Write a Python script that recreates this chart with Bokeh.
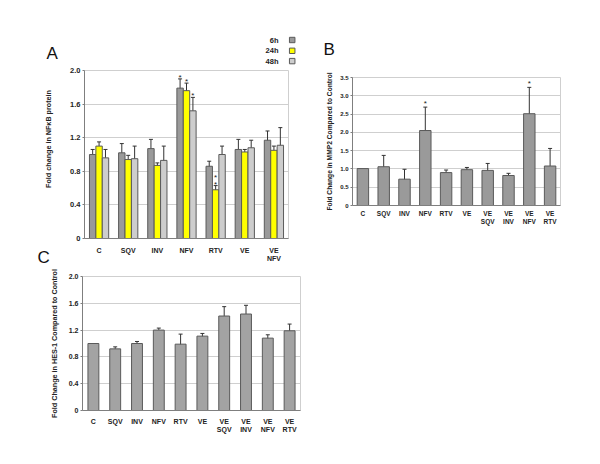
import numpy as np
from bokeh.plotting import figure
from bokeh.models import (ColumnDataSource, Whisker, TeeHead, FixedTicker, Range1d)
from bokeh.layouts import row, column
from bokeh.embed import file_html
from bokeh.resources import INLINE
from bokeh.core.properties import value

FONT = "Liberation Sans"

# ---------------- Panel A data (NF-kB protein) ----------------
a_cats = ["C", "SQV", "INV", "NFV", "RTV", "VE", "VE\nNFV"]
a_series = ["6h", "24h", "48h"]
a_6h = [1.00, 1.02, 1.07, 1.79, 0.86, 1.06, 1.17]
a_6h_err = [0.06, 0.11, 0.11, 0.11, 0.06, 0.12, 0.11]
a_24h = [1.10, 0.94, 0.87, 1.76, 0.58, 1.03, 1.05]
a_24h_err = [0.05, 0.05, 0.03, 0.09, 0.05, 0.03, 0.05]
a_48h = [0.96, 0.95, 0.93, 1.52, 1.00, 1.08, 1.11]
a_48h_err = [0.10, 0.15, 0.17, 0.16, 0.10, 0.09, 0.21]
a_sig_6h = ["", "", "", "*", "", "", ""]
a_sig_24h = ["", "", "", "*", "*\n*", "", ""]
a_sig_48h = ["", "", "", "*", "", "", ""]
a_yticks = [0, 0.4, 0.8, 1.2, 1.6, 2.0]
a_ylabels = ["0", "0.4", "0.8", "1.2", "1.6", "2.0"]
a_ytitle = "Fold change in NF\u03baB protein"

# ---------------- Panel B data (MMP2) ----------------
b_cats = ["C", "SQV", "INV", "NFV", "RTV", "VE", "VE\nSQV", "VE\nINV", "VE\nNFV", "VE\nRTV"]
b_vals = [1.01, 1.06, 0.72, 2.05, 0.90, 0.98, 0.96, 0.82, 2.51, 1.08]
b_err = [0.00, 0.31, 0.27, 0.64, 0.07, 0.06, 0.19, 0.06, 0.72, 0.48]
b_sig = ["", "", "", "*", "", "", "", "", "*", ""]
b_yticks = [0, 0.5, 1.0, 1.5, 2.0, 2.5, 3.0, 3.5]
b_ylabels = ["0", "0.5", "1.0", "1.5", "2.0", "2.5", "3.0", "3.5"]
b_ytitle = "Fold Change in MMP2 Compared to Control"

# ---------------- Panel C data (HES-1) ----------------
c_cats = ["C", "SQV", "INV", "NFV", "RTV", "VE", "VE\nSQV", "VE\nINV", "VE\nNFV", "VE\nRTV"]
c_vals = [1.00, 0.92, 1.00, 1.20, 0.99, 1.11, 1.41, 1.44, 1.08, 1.19]
c_err = [0.00, 0.03, 0.03, 0.03, 0.15, 0.04, 0.14, 0.13, 0.05, 0.10]
c_yticks = [0, 0.4, 0.8, 1.2, 1.6, 2.0]
c_ylabels = ["0", "0.4", "0.8", "1.2", "1.6", "2.0"]
c_ytitle = "Fold Change in HES-1 Compared to Control"

panel_letters = ["A", "B", "C"]

AXIS_COL = "#7f7f7f"
GRID_COL = "#cfcfcf"
BAR_LINE = "#5a5a5a"
ERR_COL = "#333333"
TXT_COL = "#222222"


def make_fig(ncat, ymax, w, h, bl, br, bt, bb, yticks, ylabels, cats,
             tick_size, xlab_size, xstandoff, ylabel=None, ylabel_size="7px",
             ylabel_standoff=5):
    p = figure(width=w, height=h, min_border_left=bl, min_border_right=br,
               min_border_top=bt, min_border_bottom=bb,
               x_range=Range1d(0, ncat), y_range=Range1d(0, ymax),
               output_backend="svg", toolbar_location=None, title=None)
    p.frame_align = False
    p.background_fill_color = "white"
    p.border_fill_color = "white"
    p.outline_line_color = GRID_COL
    p.xgrid.grid_line_color = None
    p.ygrid.grid_line_color = GRID_COL
    p.ygrid.ticker = FixedTicker(ticks=yticks)
    xt = [i + 0.5 for i in range(ncat)]
    p.xaxis.ticker = FixedTicker(ticks=xt)
    p.xaxis.major_label_overrides = {t: c for t, c in zip(xt, cats)}
    p.yaxis.ticker = FixedTicker(ticks=yticks)
    p.yaxis.major_label_overrides = {t: l for t, l in zip(yticks, ylabels)}
    for ax in (p.xaxis[0], p.yaxis[0]):
        ax.axis_line_color = AXIS_COL
        ax.minor_tick_line_color = None
        ax.major_label_text_font = FONT
        ax.major_label_text_font_style = "bold"
        ax.major_label_text_color = TXT_COL
    p.yaxis.major_label_text_font_size = tick_size
    p.xaxis.major_label_text_font_size = xlab_size
    p.xaxis.major_tick_line_color = None
    p.xaxis.major_tick_out = 0
    p.xaxis.major_tick_in = 0
    p.xaxis.major_label_standoff = xstandoff
    p.yaxis.major_tick_line_color = AXIS_COL
    p.yaxis.major_tick_out = 2
    p.yaxis.major_tick_in = 0
    p.yaxis.major_label_standoff = 2
    if ylabel:
        p.yaxis.axis_label = ylabel
        p.yaxis.axis_label_text_font = FONT
        p.yaxis.axis_label_text_font_style = "bold"
        p.yaxis.axis_label_text_font_size = ylabel_size
        p.yaxis.axis_label_text_color = TXT_COL
        p.yaxis.axis_label_standoff = ylabel_standoff
    return p


def blank_fig(x0, x1, y0, y1):
    # plain drawing area whose data units equal page pixels (y downwards)
    p = figure(width=x1 - x0, height=y1 - y0, x_range=Range1d(x0, x1),
               y_range=Range1d(y1, y0), x_axis_type=None, y_axis_type=None,
               min_border=0, output_backend="svg", toolbar_location=None, title=None)
    p.frame_align = False
    p.outline_line_color = None
    p.background_fill_color = "white"
    p.border_fill_color = "white"
    return p


def add_whiskers(p, xs, vals, errs):
    xx, lo, up = [], [], []
    for x, v, e in zip(xs, vals, errs):
        if e > 0:
            xx.append(x)
            lo.append(v - e)
            up.append(v + e)
    src = ColumnDataSource(dict(x=xx, lower=lo, upper=up))
    w = Whisker(base="x", lower="lower", upper="upper", source=src,
                line_color=ERR_COL, line_width=1,
                upper_head=TeeHead(size=4, line_color=ERR_COL, line_width=1),
                lower_head=TeeHead(size=4, line_color=ERR_COL, line_width=1))
    p.add_layout(w)


def add_sig(p, xs, vals, errs, sigs, size="8px", yoff=3):
    xx, yy, tt = [], [], []
    for x, v, e, s in zip(xs, vals, errs, sigs):
        if s:
            xx.append(x)
            yy.append(v + e)
            tt.append(s)
    src = ColumnDataSource(dict(x=xx, y=yy, t=tt))
    p.text(x="x", y="y", text="t", source=src, text_align="center",
           text_baseline="bottom", text_font=value(FONT), text_font_size=size,
           text_color=TXT_COL, y_offset=yoff, text_line_height=0.7)


def letter(p, x, y, t):
    p.text(x=[x], y=[y], text=[t], text_font=value(FONT), text_font_size="17px",
           text_align="left", text_baseline="middle", text_color="#111111")


# ---------------- header above panel A: letter + legend ----------------
hA = blank_fig(0, 305, 0, 65)
letter(hA, 46, 52.5, panel_letters[0])
a_colors = ["#9a9a9a", "#ffff00", "#cdcdcd"]
leg_y = [39.5, 50.3, 60.6]
hA.text(x=[278] * 3, y=leg_y, text=a_series, text_align="right",
        text_baseline="middle", text_font=value(FONT), text_font_style="bold",
        text_font_size="7.5px", text_color=TXT_COL)
hA.rect(x=[291.7] * 3, y=leg_y, width=5.5, height=5.4, fill_color=a_colors,
        line_color=BAR_LINE, line_width=1)

# ---------------- strip left of panel A: y title + letter C ----------------
sA = blank_fig(0, 60, 65, 268)
sA.text(x=[48], y=[138.5], text=[a_ytitle], angle=np.pi / 2, text_align="center",
        text_baseline="middle", text_font=value(FONT), text_font_style="bold",
        text_font_size="7.2px", text_color=TXT_COL)
letter(sA, 37, 256.5, panel_letters[2])

# ---------------- Figure A ----------------
nA = len(a_cats)
pA = make_fig(nA, 2.0, 245, 203, 24, 17, 5, 30, a_yticks, a_ylabels, a_cats,
              "7.5px", "7px", 8)
bw = 0.22
centers = np.arange(nA) + 0.5
a_vals_all = [a_6h, a_24h, a_48h]
a_errs_all = [a_6h_err, a_24h_err, a_48h_err]
a_sigs_all = [a_sig_6h, a_sig_24h, a_sig_48h]
for k, (vals, errs, sigs, col) in enumerate(zip(a_vals_all, a_errs_all, a_sigs_all, a_colors)):
    xs = list(centers + (k - 1) * bw)
    src = ColumnDataSource(dict(x=xs, top=vals))
    pA.vbar(x="x", top="top", width=bw, bottom=0, source=src, fill_color=col,
            line_color=BAR_LINE, line_width=1)
    add_whiskers(pA, xs, vals, errs)
    add_sig(pA, xs, vals, errs, sigs)

# ---------------- Figure C ----------------
nC = len(c_cats)
pC = make_fig(nC, 2.0, 305, 188, 82, 5, 8, 46, c_yticks, c_ylabels, c_cats,
              "7px", "7px", 7, ylabel=c_ytitle, ylabel_size="7.2px",
              ylabel_standoff=7)
xsC = list(np.arange(nC) + 0.5)
pC.vbar(x="x", top="top", width=0.5, bottom=0,
        source=ColumnDataSource(dict(x=xsC, top=c_vals)),
        fill_color="#a3a3a3", line_color=BAR_LINE, line_width=1)
add_whiskers(pC, xsC, c_vals, c_err)

# ---------------- header above panel B ----------------
hB = blank_fig(305, 592, 0, 70)
letter(hB, 323, 49, panel_letters[1])

# ---------------- Figure B ----------------
nB = len(b_cats)
pB = make_fig(nB, 3.5, 287, 171, 47, 32, 7, 36, b_yticks, b_ylabels, b_cats,
              "6px", "6.5px", 4, ylabel=b_ytitle, ylabel_size="6.7px",
              ylabel_standoff=4)
xsB = list(np.arange(nB) + 0.5)
pB.vbar(x="x", top="top", width=0.55, bottom=0,
        source=ColumnDataSource(dict(x=xsB, top=b_vals)),
        fill_color="#9a9a9a", line_color=BAR_LINE, line_width=1)
add_whiskers(pB, xsB, b_vals, b_err)
add_sig(pB, xsB, b_vals, b_err, b_sig, yoff=1)

layout = row(column(hA, row(sA, pA), pC), column(hB, pB))
open("out.html", "w").write(file_html(layout, INLINE))
